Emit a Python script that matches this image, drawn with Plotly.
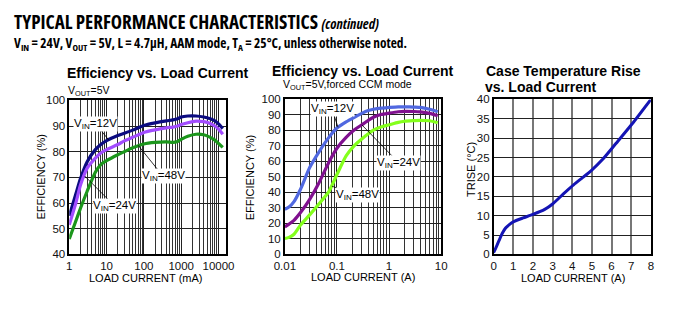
import math
import plotly.graph_objects as go

W, H = 690, 322

# ---------------- data ----------------
# Chart 1: efficiency vs load current (mA), AAM mode
load_ma = [1, 1.5, 2, 3, 5, 7, 10, 20, 30, 50, 100, 200, 400, 600, 800, 1000, 1500, 2500, 4000, 6000, 8000, 10000, 13000]
eff1_12v = [55, 63.5, 69.5, 76.0, 80.8, 82.8, 84.3, 86.3, 87.2, 88.4, 90.2, 91.2, 92.0, 92.4, 92.8, 93.5, 93.9, 93.9, 93.5, 92.8, 92.0, 90.8, 89.0]
eff1_24v = [51.5, 60, 67, 73.5, 77.5, 79.5, 80.8, 82.8, 84.2, 85.6, 87.5, 88.5, 89.3, 89.6, 90.0, 90.6, 91.3, 91.9, 91.7, 91.0, 90.0, 88.8, 86.8]
eff1_48v = [46, 53, 58, 64.5, 72, 75, 76.5, 78.8, 80, 81.5, 83, 83.6, 83.8, 83.6, 84.0, 84.8, 86.0, 86.8, 86.6, 85.6, 84.5, 83.2, 81.7]

# Chart 2: efficiency vs load current (A), forced CCM mode
load_a = [0.01, 0.012, 0.015, 0.02, 0.03, 0.045, 0.07, 0.1, 0.15, 0.22, 0.3, 0.4, 0.5, 0.7, 1, 1.5, 2, 3, 4, 6, 8.6]
eff2_12v = [29, 30.5, 34, 42, 56, 66, 75.5, 81.5, 85.5, 88.6, 91, 92.8, 93.6, 94.4, 94.8, 95.2, 95.2, 95.0, 94.8, 93.6, 92.0]
eff2_24v = [17.7, 19.5, 22, 27, 35.5, 46, 59.5, 68.5, 75.5, 80.5, 83.6, 86.5, 88.5, 90.2, 91.1, 92.0, 92.3, 92.2, 91.9, 91.0, 89.4]
eff2_48v = [10.2, 11, 13, 19, 25.5, 32.5, 40.5, 51.5, 63.5, 70.5, 74.5, 77.8, 80.2, 82.2, 83.6, 85.2, 85.9, 86.3, 86.5, 86.2, 84.9]

# Chart 3: case temperature rise vs load current (A)
load3_a = [0, 0.1, 0.28, 0.45, 0.61, 0.8, 1, 1.5, 2, 2.6, 3, 3.55, 4.08, 4.5, 4.98, 5.56, 6.22, 7.05, 8]
trise = [0.5, 1.5, 3.6, 5.5, 6.8, 7.7, 8.4, 9.4, 10.3, 11.6, 13.0, 15.6, 18.0, 19.7, 21.7, 24.6, 28.6, 33.7, 40]

ticks1_x = [1, 10, 100, 1000, 10000]
ticks1_y = [40, 50, 60, 70, 80, 90, 100]
ticks2_x = [0.01, 0.1, 1, 10]
ticks2_y = list(range(0, 101, 10))
ticks3_x = list(range(0, 9))
ticks3_y = list(range(0, 41, 5))

# ---------------- helpers ----------------
def px(x):
    return x / W

def py(y):
    return 1 - y / H

FONT = "Liberation Sans, Arial, sans-serif"
COND = "Open Sans, sans-serif"

fig = go.Figure()

for ys, col in [(eff1_12v, "#0b0b80"), (eff1_24v, "#a24cff"), (eff1_48v, "#1c961c")]:
    fig.add_trace(go.Scatter(x=load_ma, y=ys, mode="lines", line=dict(color=col, width=3.2, shape="spline", smoothing=0.6),
                             xaxis="x", yaxis="y", showlegend=False, hoverinfo="skip"))
for ys, col in [(eff2_12v, "#5068e0"), (eff2_24v, "#80108f"), (eff2_48v, "#84ff1c")]:
    fig.add_trace(go.Scatter(x=load_a, y=ys, mode="lines", line=dict(color=col, width=3.2, shape="spline", smoothing=0.6),
                             xaxis="x2", yaxis="y2", showlegend=False, hoverinfo="skip"))
fig.add_trace(go.Scatter(x=load3_a, y=trise, mode="lines", line=dict(color="#1414b4", width=3, shape="spline", smoothing=0.6),
                         xaxis="x3", yaxis="y3", showlegend=False, hoverinfo="skip"))

tickfont = dict(family=FONT, size=11.5, color="#111")
grid_major = "#222"
grid_minor = "#333"

minor1 = [m * 10 ** d for d in range(0, 5) for m in range(2, 10) if m * 10 ** d < 16000]
minor2 = [m * 10 ** d for d in range(-2, 1) for m in range(2, 10)]

common_ax = dict(showline=True, linecolor="black", linewidth=1.5, mirror=True, ticks="",
                 tickfont=tickfont, zeroline=False, fixedrange=True)

fig.update_layout(
    width=W, height=H, margin=dict(l=0, r=0, t=0, b=0),
    paper_bgcolor="white", plot_bgcolor="white",
    xaxis=dict(domain=[px(60), px(221)], anchor="y", type="log", range=[0, 4.19],
               tickmode="array", tickvals=ticks1_x, ticktext=[str(v) for v in ticks1_x],
               showgrid=True, gridcolor=grid_major, gridwidth=1,
               minor=dict(tickmode="array", tickvals=minor1, showgrid=True, gridcolor=grid_minor, gridwidth=0.7),
               **common_ax),
    yaxis=dict(domain=[py(258), py(98)], anchor="x", range=[40, 100],
               tickmode="array", tickvals=ticks1_y, showgrid=True, gridcolor=grid_major, gridwidth=1, **common_ax),
    xaxis2=dict(domain=[px(282), px(443)], anchor="y2", type="log", range=[-2, 1],
                tickmode="array", tickvals=ticks2_x, ticktext=["0.01", "0.1", "1", "10"],
                showgrid=True, gridcolor=grid_major, gridwidth=1,
                minor=dict(tickmode="array", tickvals=minor2, showgrid=True, gridcolor=grid_minor, gridwidth=0.7),
                **common_ax),
    yaxis2=dict(domain=[py(258), py(97)], anchor="x2", range=[0, 100],
                tickmode="array", tickvals=ticks2_y, showgrid=True, gridcolor=grid_major, gridwidth=1, **common_ax),
    xaxis3=dict(domain=[px(497), px(659)], anchor="y3", range=[0, 8],
                tickmode="array", tickvals=ticks3_x, showgrid=True, gridcolor="#777", gridwidth=1.8, **common_ax),
    yaxis3=dict(domain=[py(258), py(97)], anchor="x3", range=[0, 40],
                tickmode="array", tickvals=ticks3_y, showgrid=True, gridcolor="#222", gridwidth=1, **common_ax),
)

ann = []

def text(x, y, s, size=11, bold=False, xanchor="center", family=FONT, textangle=0, style=None):
    if bold:
        s = "<b>" + s + "</b>"
    if style:
        s = "<span style='%s'>%s</span>" % (style, s)
    ann.append(dict(x=px(x), y=py(y), xref="paper", yref="paper", text=s, showarrow=False,
                    xanchor=xanchor, yanchor="middle", textangle=textangle,
                    font=dict(family=family, size=size, color="black")))

# header (condensed bold)
text(191, 17, "TYPICAL PERFORMANCE CHARACTERISTICS <span style='font-size:14px'><i>(continued)</i></span>",
     size=19, bold=True, family=COND, style="font-stretch:condensed")
text(205, 39, "V<sub>IN</sub> = 24V, V<sub>OUT</sub> = 5V, L = 4.7µH, AAM mode, T<sub>A</sub> = 25°C, unless otherwise noted.",
     size=13.4, bold=True, family=COND, style="font-stretch:condensed")

# chart titles
text(151, 70, "Efficiency vs. Load Current", size=14, bold=True)
text(80, 88, "V<sub>OUT</sub>=5V", size=10.5)
text(363, 68, "Efficiency vs. Load Current", size=14, bold=True)
text(347, 82, "V<sub>OUT</sub>=5V,forced CCM mode", size=10.5)
text(569, 68, "Case Temperature Rise", size=14, bold=True)
text(546, 84, "vs. Load Current", size=14, bold=True)

# axis titles
text(139, 283, "LOAD CURRENT (mA)", size=11)
text(363, 282, "LOAD CURRENT (A)", size=11)
text(579, 283, "LOAD CURRENT (A)", size=11)
text(31, 178, "EFFICIENCY (%)", size=11, textangle=-90)
text(246, 178, "EFFICIENCY (%)", size=11, textangle=-90)
text(473, 170, "TRISE (°C)", size=11, textangle=-90)

fig.update_layout(annotations=ann)

def label(xref, yref, x, y, s, ax, ay):
    fig.add_annotation(x=x, y=y, xref=xref, yref=yref, text=s, showarrow=True, arrowhead=0,
                       arrowwidth=0.8, arrowcolor="black", ax=ax, ay=ay, bgcolor="white",
                       borderpad=0, font=dict(family=FONT, size=11.5, color="black"))

label("x", "y", math.log10(11.5), 84.5, "V<sub>IN</sub>=12V", -13, -16)
label("x", "y", math.log10(70), 82.5, "V<sub>IN</sub>=48V", 25, 31)
label("x", "y", math.log10(2.6), 70.5, "V<sub>IN</sub>=24V", 30, 30)
label("x2", "y2", math.log10(0.105), 82, "V<sub>IN</sub>=12V", -6, -18)
label("x2", "y2", math.log10(0.3), 83.6, "V<sub>IN</sub>=24V", 37, 38)
label("x2", "y2", math.log10(0.08), 44, "V<sub>IN</sub>=48V", 26, 9)

fig.write_html("out.html")
